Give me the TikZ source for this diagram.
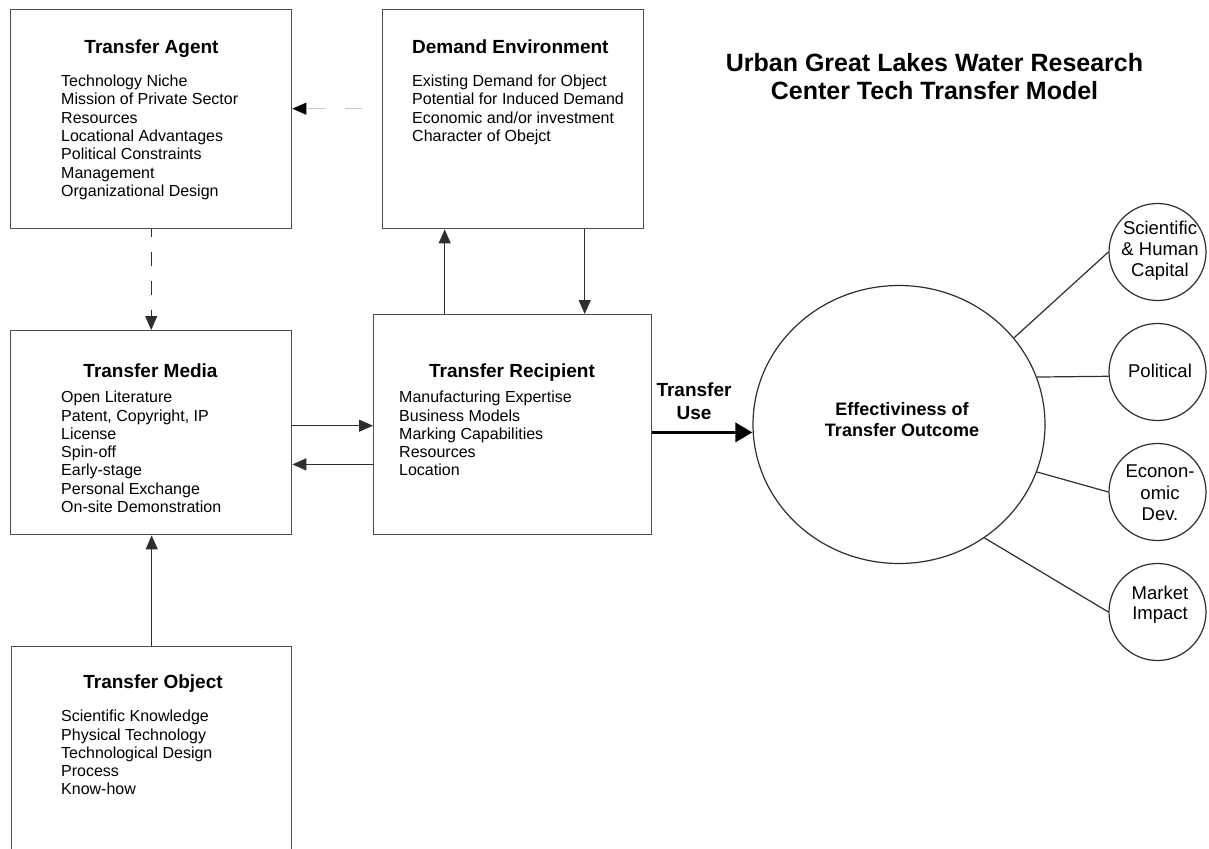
\documentclass[tikz,border=0pt]{standalone}
\usepackage{fontspec}
\setmainfont{Liberation Sans}
\usetikzlibrary{arrows.meta,shapes.geometric}
\definecolor{boxgray}{HTML}{4D4D4D}
\definecolor{linecol}{HTML}{2E2E2E}
\definecolor{lightg}{HTML}{C8C8C8}
\begin{document}
\begin{tikzpicture}[x=1pt,y=-1pt,
  box/.style={draw=boxgray, line width=1.4pt, rectangle, inner sep=0pt, anchor=north west},
  ttl/.style={font=\fontsize{19}{22}\selectfont\bfseries, inner sep=0pt, anchor=base},
  lst/.style={font=\fontsize{16}{18.3}\selectfont, align=left, inner sep=0pt, anchor=north west},
  arr/.style={draw=linecol, line width=1.3pt, -{Triangle[length=14pt,width=12pt]}},
  conn/.style={draw=linecol, line width=1.2pt},
  smallc/.style={circle, draw=linecol, line width=1.2pt, minimum size=97pt, inner sep=0pt},
  smallt/.style={font=\fontsize{18.5}{21}\selectfont, align=center, inner sep=0pt, anchor=north}
]
\useasboundingbox (0,0) rectangle (1209,848);
\clip (0,0) rectangle (1209,848);

% boxes
\node[box, minimum width=281pt, minimum height=219pt] (agent) at (10,9) {};
\node[box, minimum width=261pt, minimum height=219pt] (dem) at (382,9) {};
\node[box, minimum width=278pt, minimum height=220pt] (rec) at (373,314) {};
\node[box, minimum width=281pt, minimum height=204pt] (media) at (10,330) {};
\node[box, minimum width=280pt, minimum height=250pt] (obj) at (11,646) {};

% titles
\node[ttl] (agentT) at (151.5,53.7) {Transfer Agent};
\node[ttl, anchor=base west] (demT) at (412,53.7) {Demand Environment};
\node[ttl] (mediaT) at (150.5,377.7) {Transfer Media};
\node[ttl] (recT) at (512,377.7) {Transfer Recipient};
\node[ttl] (objT) at (153,688) {Transfer Object};

% lists
\node[lst] (agentL) at (61,73.6) {\strut Technology Niche\\Mission of Private Sector\\Resources\\Locational Advantages\\Political Constraints\\Management\\Organizational Design};
\node[lst] (demL) at (412,73.6) {\strut Existing Demand for Object\\Potential for Induced Demand\\Economic and/or investment\\Character of Obejct};
\node[lst] (mediaL) at (61,389.7) {\strut Open Literature\\Patent, Copyright, IP\\License\\Spin-off\\Early-stage\\Personal Exchange\\On-site Demonstration};
\node[lst] (recL) at (399,389.7) {\strut Manufacturing Expertise\\Business Models\\Marking Capabilities\\Resources\\Location};
\node[lst] (objL) at (61,708.7) {\strut Scientific Knowledge\\Physical Technology\\Technological Design\\Process\\Know-how};

% main title
\node[font=\fontsize{25}{27.7}\selectfont\bfseries, align=center, inner sep=0pt, anchor=north] (mainT) at (934.5,51.9) {\strut Urban Great Lakes Water Research\\Center Tech Transfer Model};

% transfer use label
\node[font=\fontsize{19}{23}\selectfont\bfseries, align=center, inner sep=0pt, anchor=north] (use) at (694,379.9) {\strut Transfer\\Use};

% outcome ellipse
\node[ellipse, draw=linecol, line width=1.2pt, minimum width=292pt, minimum height=278pt, inner sep=0pt] (eff) at (899,424.5) {};
\node[font=\fontsize{18}{21}\selectfont\bfseries, align=center, inner sep=0pt, anchor=north] (effT) at (902,400.8) {\strut Effectiviness of\\Transfer Outcome};

% small circles
\node[smallc] (sci) at (1157.5,252) {};
\node[smallc] (pol) at (1157.5,372) {};
\node[smallc] (eco) at (1157.5,492) {};
\node[smallc] (mkt) at (1157.5,612) {};
\node[smallt] (sciT) at (1160,219.9) {\strut Scientific\\\& Human\\Capital};
\node[smallt] (polT) at (1160,362.6) {\strut Political};
\node[smallt, font=\fontsize{18.5}{21.5}\selectfont] (ecoT) at (1160,462.6) {\strut Econon-\\omic\\Dev.};
\node[smallt, font=\fontsize{18.5}{20.6}\selectfont] (mktT) at (1160,584.6) {\strut Market\\Impact};

% connectors
\draw[arr, line width=1.2pt, dash pattern=on 14pt off 15pt, dash phase=6pt] (agent.south) -- (media.north);
\draw[draw=lightg, line width=1.3pt, dash pattern=on 17pt off 20pt, dash phase=17pt, -{Triangle[length=14pt,width=12pt,black]}] ([yshift=10.5pt]dem.west) -- ([yshift=10.5pt]dem.west -| agent.east);
\draw[arr] (obj.north) -- (obj.north |- media.south);
\draw[arr] ([xshift=-68pt]rec.north) -- ([xshift=-68pt]rec.north |- dem.south);
\draw[arr] ([xshift=72pt]rec.north |- dem.south) -- ([xshift=72pt]rec.north);
\draw[arr] ([yshift=7pt]media.east) -- ([yshift=7pt]media.east -| rec.west);
\draw[arr] ([yshift=-31.7pt]media.east -| rec.west) -- ([yshift=-31.7pt]media.east);
\draw[draw=black, line width=3.6pt, -{Triangle[length=17pt,width=19pt]}] ([yshift=-7.7pt]rec.east) -- ([yshift=-7.7pt]rec.east -| eff.west);

\draw[conn] (eff.37.5) -- (sci.west);
\draw[conn] (eff.19) -- (pol.185);
\draw[conn] (eff.-19) -- (eco.west);
\draw[conn] (eff.-53.6) -- (mkt.west);
\end{tikzpicture}
\end{document}
